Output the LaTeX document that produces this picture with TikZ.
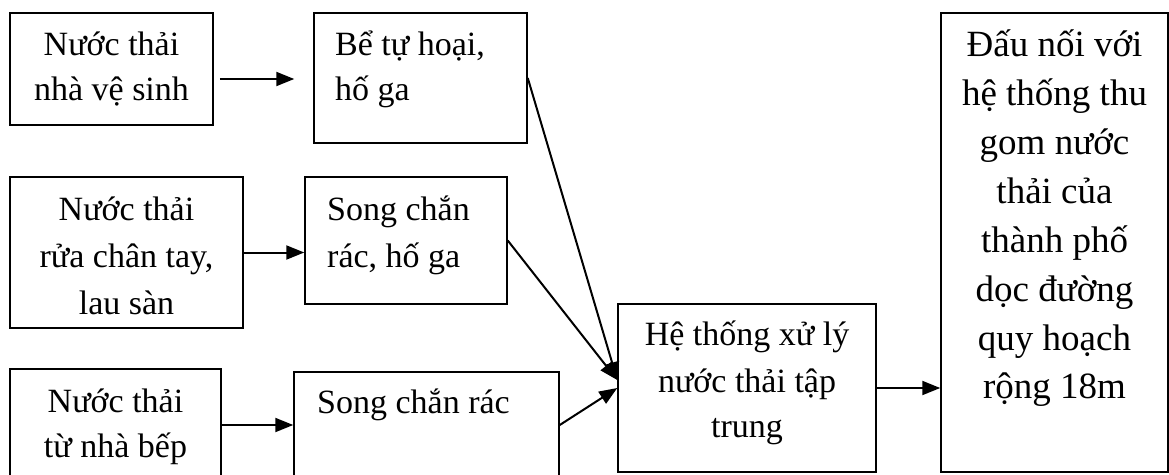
\documentclass[tikz,border=0pt]{standalone}
\usepackage{fontspec}
\setmainfont{Liberation Serif}
\usetikzlibrary{arrows.meta,calc}
\tikzset{
  box/.style={draw=black, line width=1.5pt, rectangle, inner sep=0pt},
  arr/.style={line width=2pt, -{Triangle[length=18pt,width=14pt]}},
  txt/.style={inner sep=0pt, font=\fontsize{34}{47}\selectfont},
  bigtxt/.style={inner sep=0pt, font=\fontsize{37}{49}\selectfont}
}
\newcommand{\boxat}[3]{% name, corner1, corner2
  \path let \p1=#2, \p2=#3 in
    node[box, minimum width={abs(\x2-\x1)}, minimum height={abs(\y2-\y1)}]
    (#1) at ($#2!0.5!#3$) {};}
\begin{document}
\begin{tikzpicture}[x=1pt,y=-1pt]
\clip (0,0) rectangle (1169,474);
\fill[white] (0,0) rectangle (1169,474);
% boxes
\boxat{A}{(10,13)}{(213,125)}
\boxat{B}{(314,13)}{(527,143)}
\boxat{C}{(10,177)}{(243,328)}
\boxat{D}{(305,177)}{(507,304)}
\boxat{E}{(10,369)}{(221,481)}
\boxat{F}{(294,372)}{(559,478)}
\boxat{G}{(618,304)}{(876,472)}
\boxat{H}{(941,13)}{(1168,472)}
% texts
\node[txt, anchor=base] (a1) at (111.5,55) {Nước thải};
\node[txt, anchor=base] (a2) at (111.5,100) {nhà vệ sinh};
\node[txt, anchor=base west] (b1) at (335,55) {Bể tự hoại,};
\node[txt, anchor=base west] (b2) at (335,100) {hố ga};
\node[txt, anchor=base] (c1) at (126.5,220) {Nước thải};
\node[txt, anchor=base] (c2) at (126.5,267) {rửa chân tay,};
\node[txt, anchor=base] (c3) at (126.5,314) {lau sàn};
\node[txt, anchor=base west] (d1) at (327,220) {Song chắn};
\node[txt, anchor=base west] (d2) at (327,267) {rác, hố ga};
\node[txt, anchor=base] (e1) at (115.5,412) {Nước thải};
\node[txt, anchor=base] (e2) at (115.5,457) {từ nhà bếp};
\node[txt, anchor=base west] (f1) at (317,413) {Song chắn rác};
\node[txt, anchor=base] (g1) at (747,345) {Hệ thống xử lý};
\node[txt, anchor=base] (g2) at (747,392) {nước thải tập};
\node[txt, anchor=base] (g3) at (747,437) {trung};
\node[bigtxt, anchor=base] (h1) at (1054.5,56) {Đấu nối với};
\node[bigtxt, anchor=base] (h2) at (1054.5,105) {hệ thống thu};
\node[bigtxt, anchor=base] (h3) at (1054.5,154) {gom nước};
\node[bigtxt, anchor=base] (h4) at (1054.5,203) {thải của};
\node[bigtxt, anchor=base] (h5) at (1054.5,252) {thành phố};
\node[bigtxt, anchor=base] (h6) at (1054.5,301) {dọc đường};
\node[bigtxt, anchor=base] (h7) at (1054.5,350) {quy hoạch};
\node[bigtxt, anchor=base] (h8) at (1054.5,398) {rộng 18m};
% connectors
\coordinate (gin) at ($(G.west)+(0,-8)$);
\draw[arr] ($(A.east |- B.west)+(6,1)$) -- ($(B.west)+(-19,1)$);
\draw[arr] (C.east) -- (D.west |- C.east);
\draw[arr] (E.east) -- (F.west);
\draw[arr] (B.east) -- (gin);
\draw[arr] (D.east) -- (gin);
\draw[arr] (F.east) -- (G.west);
\draw[arr] (G.east) -- (H.west |- G.east);
\end{tikzpicture}
\end{document}
